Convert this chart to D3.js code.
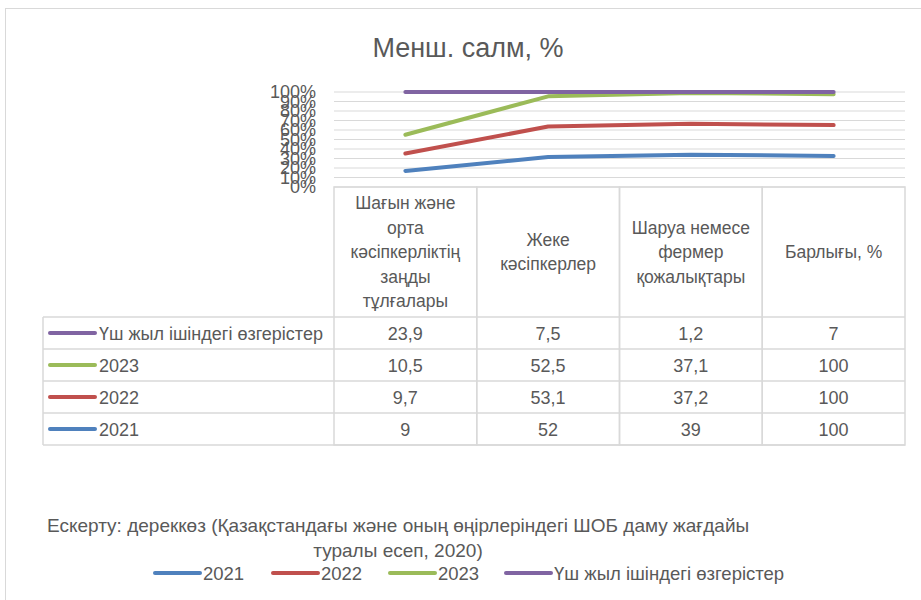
<!DOCTYPE html>
<html>
<head>
<meta charset="utf-8">
<script src="https://cdn.jsdelivr.net/npm/d3@7"></script>
<style>
  body { margin: 0; background: #fff; }
  svg text { font-family: "Liberation Sans", Arial, sans-serif; fill: #595959; }
</style>
</head>
<body>
<svg width="921" height="600"></svg>
<script>
// data
const categories = ["Шағын және орта кәсіпкерліктің заңды тұлғалары", "Жеке кәсіпкерлер", "Шаруа немесе фермер қожалықтары", "Барлығы, %"];
const categoryLines = [
    ["Шағын және", "орта", "кәсіпкерліктің", "заңды", "тұлғалары"],
    ["Жеке", "кәсіпкерлер"],
    ["Шаруа немесе", "фермер", "қожалықтары"],
    ["Барлығы, %"]
];
const seriesNames = ["2021", "2022", "2023", "Үш жыл ішіндегі өзгерістер"];
const values2021 = [9, 52, 39, 100];
const values2022 = [9.7, 53.1, 37.2, 100];
const values2023 = [10.5, 52.5, 37.1, 100];
const valuesChange = [23.9, 7.5, 1.2, 7];
const colors = ["#4f81bd", "#c0504d", "#9bbb59", "#8064a2"];
const yTicks = [0, 0.1, 0.2, 0.3, 0.4, 0.5, 0.6, 0.7, 0.8, 0.9, 1];

const allValues = [values2021, values2022, values2023, valuesChange];
const rows = categories.map((c, i) => {
    const r = { cat: c };
    seriesNames.forEach((s, j) => r[s] = allValues[j][i]);
    return r;
});

const svg = d3.select("svg");

// outer frame
svg.append("rect")
    .attr("x", 5.5).attr("y", 8.5)
    .attr("width", 940).attr("height", 620)
    .attr("fill", "none")
    .attr("stroke", "#d9d9d9");

// title
svg.append("text")
    .attr("x", 468)
    .attr("y", 57)
    .attr("text-anchor", "middle")
    .style("font-size", "27px")
    .text("Менш. салм, %");

// scales
const x = d3.scaleBand().domain(categories).range([334, 905]);
const y = d3.scaleLinear().domain([0, 1]).range([187, 92]);

// gridlines
svg.append("g")
    .selectAll("line")
    .data(yTicks)
    .enter()
    .append("line")
    .attr("x1", 334).attr("x2", 905)
    .attr("y1", d => y(d)).attr("y2", d => y(d))
    .attr("stroke", "#d9d9d9")
    .attr("stroke-width", 1);

// y axis labels (they overlap in the original too)
const yAxis = svg.append("g")
    .attr("transform", "translate(320,0)")
    .call(d3.axisLeft(y).tickValues(yTicks).tickFormat(d3.format(".0%")).tickSize(0).tickPadding(4));
yAxis.select(".domain").remove();
yAxis.selectAll("text")
    .style("font-size", "18px")
    .style("font-family", "Liberation Sans, Arial, sans-serif")
    .attr("fill", "#595959");

// 100% stacked lines
const stacked = d3.stack().keys(seriesNames).offset(d3.stackOffsetExpand)(rows);
const line = d3.line()
    .x((d, i) => x(categories[i]) + x.bandwidth() / 2)
    .y(d => y(d[1]));

svg.append("g")
    .selectAll("path")
    .data(stacked)
    .enter()
    .append("path")
    .attr("d", line)
    .attr("fill", "none")
    .attr("stroke", (d, i) => colors[i])
    .attr("stroke-width", 4)
    .attr("stroke-linecap", "round")
    .attr("stroke-linejoin", "round");

// data table
const tableTop = 187;
const headerH = 130;
const rowH = 32;
const tableLeft = 43;
const border = "#d9d9d9";
const fmt = d3.formatLocale({ decimal: ",", thousands: " ", grouping: [3], currency: ["", ""] }).format("~r");

const table = svg.append("g");

// header cells
categories.forEach((c, i) => {
    table.append("rect")
        .attr("x", x(c)).attr("y", tableTop)
        .attr("width", x.bandwidth()).attr("height", headerH + rowH * 4)
        .attr("fill", "none").attr("stroke", border).attr("stroke-width", 1.5);
    const lines = categoryLines[i];
    const lh = 24.5;
    const cy = tableTop + headerH / 2 - (lines.length - 1) * lh / 2;
    lines.forEach((t, k) => {
        table.append("text")
            .attr("x", x(c) + x.bandwidth() / 2)
            .attr("y", cy + k * lh + 6)
            .attr("text-anchor", "middle")
            .style("font-size", "17.5px")
            .text(t);
    });
});

// rows (purple on top, blue at bottom)
const order = [3, 2, 1, 0];
order.forEach((si, r) => {
    const top = tableTop + headerH + r * rowH;
    table.append("line")
        .attr("x1", tableLeft).attr("x2", 905)
        .attr("y1", top).attr("y2", top)
        .attr("stroke", border).attr("stroke-width", 1.5);
    table.append("line")
        .attr("x1", 50).attr("x2", 95)
        .attr("y1", top + rowH / 2).attr("y2", top + rowH / 2)
        .attr("stroke", colors[si]).attr("stroke-width", 4).attr("stroke-linecap", "round");
    table.append("text")
        .attr("x", 99).attr("y", top + rowH / 2 + 6.5)
        .style("font-size", "18px")
        .text(seriesNames[si]);
    allValues[si].forEach((v, ci) => {
        table.append("text")
            .attr("x", x(categories[ci]) + x.bandwidth() / 2)
            .attr("y", top + rowH / 2 + 6.5)
            .attr("text-anchor", "middle")
            .style("font-size", "18px")
            .text(fmt(v));
    });
});
table.append("line")
    .attr("x1", tableLeft).attr("x2", 905)
    .attr("y1", tableTop + headerH + rowH * 4).attr("y2", tableTop + headerH + rowH * 4)
    .attr("stroke", border).attr("stroke-width", 1.5);
table.append("line")
    .attr("x1", tableLeft).attr("x2", tableLeft)
    .attr("y1", tableTop + headerH).attr("y2", tableTop + headerH + rowH * 4)
    .attr("stroke", border).attr("stroke-width", 1.5);

// footnote
svg.append("text")
    .attr("x", 47).attr("y", 532)
    .style("font-size", "19px")
    .text("Ескерту: дереккөз (Қазақстандағы және оның өңірлеріндегі ШОБ даму жағдайы");
svg.append("text")
    .attr("x", 398).attr("y", 557)
    .attr("text-anchor", "middle")
    .style("font-size", "19px")
    .text("туралы есеп, 2020)");

// legend
const legendX = [155, 273, 390, 506];
const legend = svg.append("g");
seriesNames.forEach((s, i) => {
    legend.append("line")
        .attr("x1", legendX[i]).attr("x2", legendX[i] + 45)
        .attr("y1", 573).attr("y2", 573)
        .attr("stroke", colors[i]).attr("stroke-width", 4).attr("stroke-linecap", "round");
    legend.append("text")
        .attr("x", legendX[i] + 48).attr("y", 579.5)
        .style("font-size", "18.5px")
        .text(s);
});
</script>
</body>
</html>
